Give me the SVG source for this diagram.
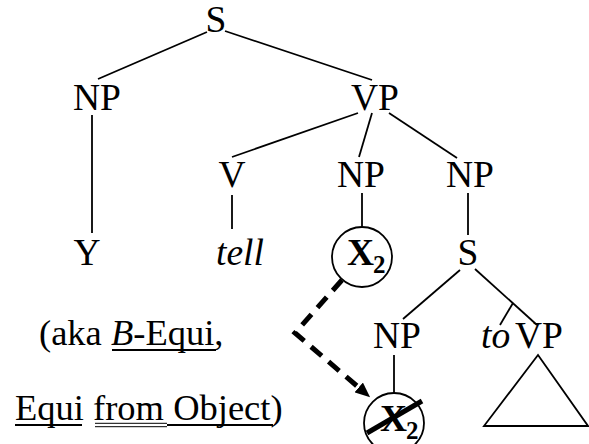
<svg xmlns="http://www.w3.org/2000/svg" width="589" height="444" viewBox="0 0 589 444">
<style>
text{font-family:"Liberation Serif","Times New Roman",serif;font-size:37.5px;fill:#000}
.m{text-anchor:middle}
.i{font-style:italic}
.b{font-weight:bold}
.sub{font-size:25px;font-weight:bold}
.n{font-size:36.5px}
.e{stroke:#000;stroke-width:1.8;fill:none}
.c{stroke:#000;stroke-width:1.8;fill:#fff}
.u{stroke:#000;stroke-width:1.8}
.u2{stroke:#000;stroke-width:1}
</style>
<defs>
<marker id="ah" markerUnits="userSpaceOnUse" markerWidth="15" markerHeight="13" viewBox="0 0 15 13" refX="7" refY="6.5" orient="auto">
<path d="M0,0 L15,6.5 L0,13 Z" fill="#000"/>
</marker>
</defs>
<g id="connectors">
<line class="e" x1="207" y1="32" x2="98" y2="79"/>
<line class="e" x1="225" y1="31" x2="372" y2="80"/>
<line class="e" x1="92" y1="115" x2="92" y2="233"/>
<line class="e" x1="358" y1="113" x2="232" y2="157"/>
<line class="e" x1="372" y1="113" x2="359" y2="157"/>
<line class="e" x1="389" y1="113" x2="457" y2="158"/>
<line class="e" x1="232" y1="195" x2="232" y2="229"/>
<line class="e" x1="362" y1="193" x2="362" y2="227"/>
<line class="e" x1="468" y1="193" x2="468" y2="235"/>
<line class="e" x1="460" y1="270" x2="403" y2="319"/>
<line class="e" x1="475" y1="269" x2="537" y2="325"/>
<line class="e" x1="513" y1="303" x2="500" y2="325"/>
<line class="e" x1="394" y1="355" x2="394" y2="393"/>
<polyline fill="none" stroke="#000" stroke-width="5" stroke-dasharray="14 9" points="342,280 295,333 364,392" marker-end="url(#ah)"/>
</g>
<g id="n-s"><text class="m" x="216" y="32">S</text></g>
<g id="n-np1"><text class="m" x="97" y="110">NP</text></g>
<g id="n-vp"><text class="m" x="375" y="110">VP</text></g>
<g id="n-v"><text class="m" x="232" y="187">V</text></g>
<g id="n-np2"><text class="m" x="361" y="187">NP</text></g>
<g id="n-np3"><text class="m" x="470" y="187">NP</text></g>
<g id="n-y"><text class="m" x="87" y="265">Y</text></g>
<g id="n-tell"><text class="m i" x="240" y="265">tell</text></g>
<g id="n-x2">
<circle class="c" cx="362" cy="257" r="30"/>
<text class="b" x="347" y="265">X</text><text class="sub" x="373" y="273">2</text>
</g>
<g id="n-s2"><text class="m" x="468" y="265">S</text></g>
<g id="n-np4"><text class="m" x="397" y="348">NP</text></g>
<g id="n-tovp">
<text class="i" x="481" y="348">to</text>
<text class="m" x="539" y="348">VP</text>
<polygon points="538,355 484,426 588,426" fill="none" stroke="#000" stroke-width="1.8"/>
</g>
<g id="n-x2b">
<circle class="c" cx="394" cy="423" r="30"/>
<text class="b" x="380" y="431">X</text><text class="sub" x="406" y="439">2</text>
<line stroke="#000" stroke-width="5" x1="367" y1="433" x2="422" y2="401"/>
</g>
<g id="note">
<text class="n" x="39" y="345">(aka <tspan class="i">B</tspan>-Equi,</text>
<line class="u" x1="112" y1="350" x2="216" y2="350"/>
<text class="n" x="15" y="420">Equi from Object)</text>
<line class="u" x1="15" y1="425" x2="82" y2="425"/>
<line class="u2" x1="95" y1="423.3" x2="167" y2="423.3"/>
<line class="u2" x1="95" y1="426.7" x2="167" y2="426.7"/>
<line class="u" x1="167" y1="425" x2="273" y2="425"/>
</g>
</svg>
